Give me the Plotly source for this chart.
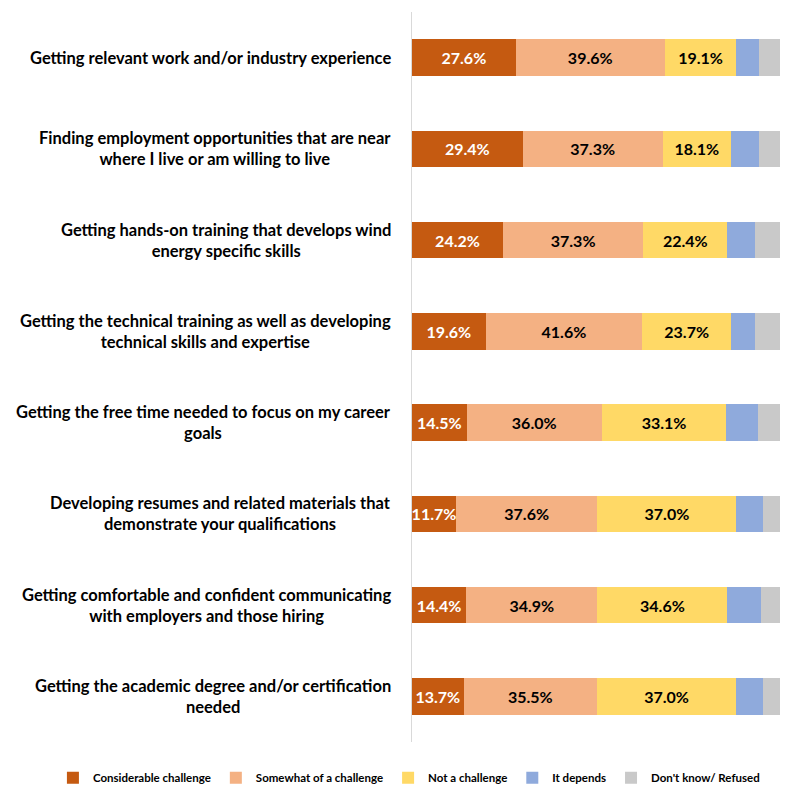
import plotly.graph_objects as go

categories = [
    "Getting relevant work and/or industry experience",
    "Finding employment opportunities that are near<br>where I live or am willing to live",
    "Getting hands-on training that develops wind<br>energy specific skills",
    "Getting the technical training as well as developing<br>technical skills and expertise",
    "Getting the free time needed to focus on my career<br>goals",
    "Developing resumes and related materials that<br>demonstrate your qualifications",
    "Getting comfortable and confident communicating<br>with employers and those hiring",
    "Getting the academic degree and/or certification<br>needed",
]

series_names = ["Considerable challenge", "Somewhat of a challenge", "Not a challenge",
                "It depends", "Don't know/ Refused"]

considerable = [27.6, 29.4, 24.2, 19.6, 14.5, 11.7, 14.4, 13.7]
somewhat = [39.6, 37.3, 37.3, 41.6, 36.0, 37.6, 34.9, 35.5]
not_challenge = [19.1, 18.1, 22.4, 23.7, 33.1, 37.0, 34.6, 37.0]
it_depends = [6.0, 7.5, 7.4, 6.4, 8.5, 7.1, 9.0, 7.2]
dont_know = [7.7, 7.7, 8.7, 8.7, 7.8, 6.6, 7.1, 6.6]

colors = ["#C55A11", "#F4B183", "#FFD966", "#8FAADC", "#C9C9C9"]
label_colors = ["white", "black", "black", None, None]

FONT = "Lato, Open Sans, Liberation Sans, Arial"

values = [considerable, somewhat, not_challenge, it_depends, dont_know]

fig = go.Figure()
for name, vals, col, lc in zip(series_names, values, colors, label_colors):
    kw = {}
    if lc is not None:
        kw = dict(
            text=[f"{v:.1f}%" for v in vals],
            textposition="inside",
            insidetextanchor="middle",
            textangle=0,
            textfont=dict(color=lc, size=16, family=FONT, weight="bold"),
        )
    fig.add_trace(go.Bar(
        y=categories, x=vals, name=name, orientation="h",
        marker=dict(color=col, line=dict(width=0)),
        hoverinfo="skip", **kw,
    ))

# category labels as centered multi-line annotations
for cat in categories:
    fig.add_annotation(
        x=0, xref="paper", y=cat, yref="y",
        text=cat, showarrow=False, align="center",
        xanchor="right", yanchor="middle", xshift=-19,
        font=dict(size=16.5, color="black", family=FONT, weight="bold"),
    )

fig.update_layout(
    width=780, height=778,
    barmode="stack",
    bargap=0.6,
    plot_bgcolor="white", paper_bgcolor="white",
    margin=dict(l=404, r=0, t=4, b=44, autoexpand=False),
    font=dict(family=FONT, color="black"),
    uniformtext=dict(minsize=16, mode="show"),
    legend=dict(
        orientation="h", xref="paper", yref="paper",
        x=-0.955, xanchor="left", y=-0.049, yanchor="middle",
        font=dict(size=11.5, family=FONT, weight="bold"),
        traceorder="normal", itemwidth=30,
    ),
    showlegend=True,
)
fig.update_xaxes(range=[0, 100], showgrid=False, showticklabels=False, zeroline=False,
                 showline=False, fixedrange=True)
fig.update_yaxes(autorange="reversed", showticklabels=False, showgrid=False,
                 showline=True, linecolor="#D9D9D9", linewidth=1, ticks="",
                 fixedrange=True)

fig.write_html("out.html")
